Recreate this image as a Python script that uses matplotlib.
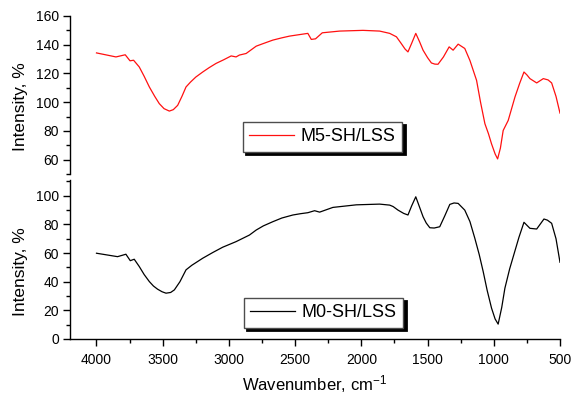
import matplotlib
matplotlib.use("Agg")
import matplotlib.pyplot as plt
from matplotlib.ticker import MultipleLocator

plt.rcParams['font.family'] = ['Liberation Sans', 'DejaVu Sans']
plt.rcParams['mathtext.fontset'] = 'custom'
plt.rcParams['mathtext.rm'] = 'Liberation Sans'
plt.rcParams['mathtext.it'] = 'Liberation Sans'

# M5-SH/LSS (red, upper panel)
wn_m5 = [4000, 3853, 3783, 3747, 3720, 3677, 3640, 3601, 3560, 3526, 3490, 3450, 3420,
         3387, 3355, 3324, 3290, 3250, 3198, 3150, 3097, 3040, 2983, 2946, 2921, 2870,
         2794, 2750, 2669, 2600, 2542, 2470, 2404, 2378, 2346, 2295, 2164, 1988, 1862,
         1786, 1735, 1700, 1670, 1648, 1620, 1589, 1560, 1534, 1500, 1471, 1445, 1421,
         1380, 1337, 1307, 1269, 1219, 1180, 1130, 1100, 1067, 1040, 1017, 990, 971,
         950, 929, 891, 840, 805, 772, 750, 727, 676, 626, 590, 563, 530, 500]
int_m5 = [134.3, 131.5, 133.0, 128.8, 129.2, 124.5, 118.0, 110.6, 104.0, 99.0, 95.5, 93.8, 94.8,
          97.8, 104.0, 110.6, 114.0, 117.5, 121.0, 124.0, 127.0, 129.5, 132.2, 131.5, 132.8, 133.9,
          139.0, 140.5, 143.2, 144.8, 146.0, 147.0, 147.9, 143.7, 144.1, 148.3, 149.5, 150.0, 149.5,
          147.9, 145.5, 141.0, 137.0, 135.0, 141.0, 147.9, 142.0, 136.2, 131.0, 127.3, 126.5, 126.4,
          131.5, 138.5, 136.2, 140.4, 137.4, 129.0, 115.2, 100.0, 85.0, 78.0, 71.0, 64.0, 60.5,
          68.0, 80.3, 87.3, 103.6, 113.0, 121.0, 119.0, 116.4, 113.4, 116.4, 115.5, 113.4, 104.0, 92.4]

# M0-SH/LSS (black, lower panel)
wn_m0 = [4000, 3841, 3778, 3745, 3715, 3677, 3640, 3601, 3570, 3539, 3505, 3475, 3440,
         3412, 3370, 3324, 3280, 3198, 3120, 3047, 2946, 2845, 2794, 2740, 2669, 2600,
         2517, 2460, 2404, 2353, 2315, 2215, 2038, 1862, 1786, 1760, 1723, 1680, 1648,
         1620, 1589, 1560, 1534, 1510, 1483, 1450, 1408, 1370, 1332, 1300, 1269, 1219,
         1180, 1143, 1110, 1080, 1050, 1017, 990, 967, 940, 916, 880, 853, 810, 772,
         727, 676, 621, 595, 563, 530, 500]
int_m0 = [59.9, 57.5, 59.2, 54.7, 55.7, 50.6, 45.0, 40.1, 37.0, 34.8, 33.0, 32.0, 32.5,
          34.3, 40.0, 48.3, 51.5, 56.4, 60.5, 64.1, 68.0, 72.6, 76.1, 79.0, 81.9, 84.5,
          86.6, 87.5, 88.2, 89.6, 88.6, 91.9, 93.7, 94.2, 93.5, 92.5, 90.0, 87.7, 86.6,
          93.0, 99.3, 92.0, 85.4, 81.0, 77.7, 77.5, 78.4, 86.0, 94.0, 95.0, 94.7, 90.0,
          82.0, 70.3, 59.0, 47.1, 34.0, 21.6, 14.0, 10.4, 22.0, 35.5, 49.0, 57.5, 71.0, 81.5,
          77.3, 76.8, 83.8, 83.0, 80.8, 70.0, 53.6]

fig = plt.figure(figsize=(5.72, 3.94), dpi=100)
ax1 = fig.add_axes([0.1224, 0.5584, 0.8566, 0.401])
ax2 = fig.add_axes([0.1224, 0.1396, 0.8566, 0.4034])

ax1.plot(wn_m5, int_m5, color='#ff1010', lw=0.9, label='M5-SH/LSS')
ax2.plot(wn_m0, int_m0, color='black', lw=0.9, label='M0-SH/LSS')

for ax in (ax1, ax2):
    ax.set_xlim(4200, 500)
    for s in ('top', 'right'):
        ax.spines[s].set_visible(False)
    ax.spines['left'].set_linewidth(1.0)
    ax.spines['bottom'].set_linewidth(1.0)
    ax.yaxis.set_minor_locator(MultipleLocator(10))
    ax.tick_params(axis='y', which='major', direction='out', length=5, width=1,
                   labelsize=10, pad=3)
    ax.tick_params(axis='y', which='minor', direction='out', length=3, width=1)
    ax.set_ylabel('Intensity, %', fontsize=12.5)
    ax.set_facecolor('none')

ax1.set_ylim(50, 160)
ax1.yaxis.set_major_locator(MultipleLocator(20))
ax1.spines['bottom'].set_visible(False)
ax1.set_xticks([])
ax1.yaxis.set_label_coords(-0.086, 0.424)

ax2.set_ylim(0, 111)
ax2.yaxis.set_major_locator(MultipleLocator(20))
ax2.xaxis.set_major_locator(MultipleLocator(500))
ax2.xaxis.set_minor_locator(MultipleLocator(250))
ax2.tick_params(axis='x', which='major', direction='out', length=5, width=1,
                labelsize=10, pad=5)
ax2.tick_params(axis='x', which='minor', direction='out', length=3, width=1)
ax2.set_xlabel('Wavenumber, cm$^{-1}$', fontsize=12)
ax2.xaxis.set_label_coords(0.5, -0.215)
ax2.yaxis.set_label_coords(-0.086, 0.421)

shadow = {'color': 'black', 'alpha': 1, 'edgecolor': 'black', 'linewidth': 2}
leg1 = ax1.legend(loc='upper left', bbox_to_anchor=(0.353, 0.329), borderaxespad=0,
                  fancybox=False, shadow=shadow, fontsize=13, handlelength=2.5,
                  handletextpad=0.35, borderpad=0.35, framealpha=1)
leg2 = ax2.legend(loc='upper left', bbox_to_anchor=(0.355, 0.258), borderaxespad=0,
                  fancybox=False, shadow=shadow, fontsize=13, handlelength=2.5,
                  handletextpad=0.35, borderpad=0.35, framealpha=1)
for leg in (leg1, leg2):
    leg.get_frame().set_edgecolor('0.3')
    leg.get_frame().set_linewidth(1.0)

fig.savefig('out.png', dpi=100)
